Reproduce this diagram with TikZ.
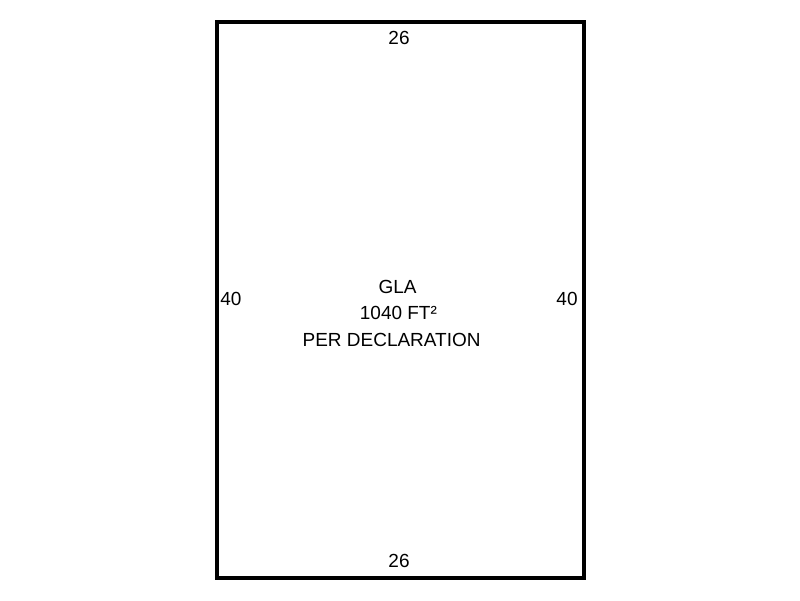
\documentclass[tikz,border=0pt]{standalone}
\usepackage{fontspec}
\setmainfont{Liberation Sans}
\begin{document}
\begin{tikzpicture}[every node/.style={font=\fontsize{13.5}{16}\selectfont, inner sep=0pt}]
\useasboundingbox (0, 0) rectangle (20, 15);
\path (5.425, 0.55) coordinate (sw) (14.6, 14.45) coordinate (ne);
\draw [line width=2.8pt] (sw) rectangle (ne);

%%%%%%%%%%%%%%%%%%%%%%%%%%%%%%%%%%%%%%%%

\node (top)    at (9.975, 14.05) {26};
\node (bottom) at (9.975, 0.975) {26};
\node (left)   at (5.775, 7.525) {40};
\node (right)  at (14.175, 7.525) {40};

\node (gla)  at (9.94, 7.825) {GLA};
\node (area) at (9.96, 7.175) {1040 FT²};
\node (decl) at (9.79, 6.5)  {PER DECLARATION};

\end{tikzpicture}
\end{document}
